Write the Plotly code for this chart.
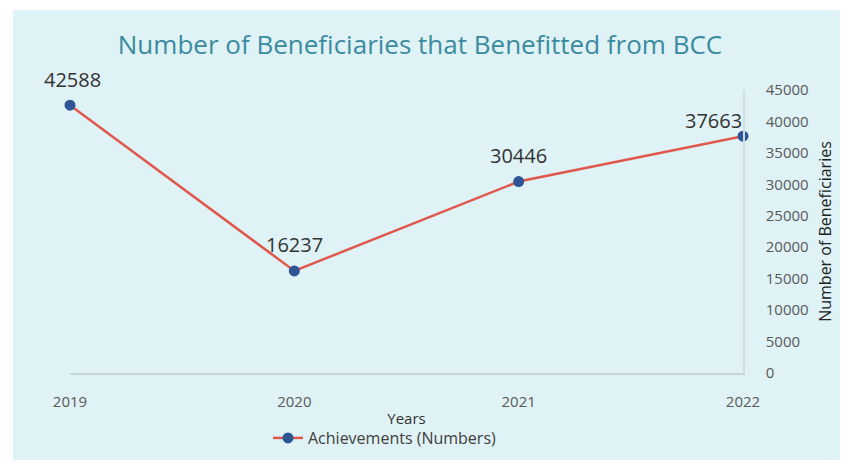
import plotly.graph_objects as go

years = [2019, 2020, 2021, 2022]
achievements = [42588, 16237, 30446, 37663]
y_ticks = [0, 5000, 10000, 15000, 20000, 25000, 30000, 35000, 40000, 45000]

W, H = 848, 469
ml, mr, mt, mb = 70, 105, 90, 96

fig = go.Figure()
fig.add_trace(go.Scatter(
    x=years, y=achievements,
    mode="lines+markers",
    name="Achievements (Numbers)",
    line=dict(color="#e0574c", width=2.5),
    marker=dict(color="#2f5597", size=11),
    cliponaxis=False,
))

# value labels above each point; the last one is nudged left to stay inside
shifts = [(2, 26), (0, 26), (0, 26), (-30, 16)]
for x, y, (dx, dy) in zip(years, achievements, shifts):
    fig.add_annotation(x=x, y=y, text=str(y), showarrow=False,
                       xshift=dx, yshift=dy,
                       font=dict(size=20, color="#333333", family="Open Sans"))

pw = W - ml - mr
ph = H - mt - mb
# light panel behind the whole chart
fig.add_shape(type="rect", xref="paper", yref="paper", layer="below",
              x0=(13 - ml) / pw, x1=(840 - ml) / pw,
              y0=(H - mb - 460) / ph, y1=(H - mb - 10) / ph,
              fillcolor="#dff2f5", line=dict(width=0))

fig.update_layout(
    width=W, height=H,
    margin=dict(l=ml, r=mr, t=mt, b=mb),
    paper_bgcolor="white",
    plot_bgcolor="rgba(0,0,0,0)",
    font=dict(family="Open Sans", color="#595959"),
    title=dict(text="Number of Beneficiaries that Benefitted from BCC",
               x=(420 - ml) / pw, xanchor="center", xref="paper", y=1 - 45 / H, yanchor="middle",
               font=dict(size=26, color="#3b8ba0", family="Open Sans")),
    xaxis=dict(range=[2019, 2022], tickvals=years, ticktext=[str(v) for v in years],
               showgrid=False, zeroline=False, showline=True, linecolor="#c9d5d8",
               linewidth=1.5, ticks="", tickfont=dict(size=15, color="#595959"),
               ticklabelstandoff=14,
               title=dict(text="Years", font=dict(size=15, color="#333333"), standoff=4)),
    yaxis=dict(range=[0, 45000], side="right", tickvals=y_ticks,
               ticktext=[str(v) for v in y_ticks],
               showgrid=False, zeroline=False, showline=True, linecolor="#d3dde0",
               linewidth=1.5, ticks="", tickfont=dict(size=15, color="#595959"),
               ticklabelstandoff=18,
               title=dict(text="Number of Beneficiaries", font=dict(size=16, color="#222222"), standoff=12)),
    showlegend=True,
    legend=dict(orientation="h", x=(385 - ml) / pw, xanchor="center", y=-(438 - (H - mb)) / ph,
                yanchor="middle", bgcolor="rgba(0,0,0,0)",
                font=dict(size=16, color="#404040")),
)

fig.write_html("out.html")
